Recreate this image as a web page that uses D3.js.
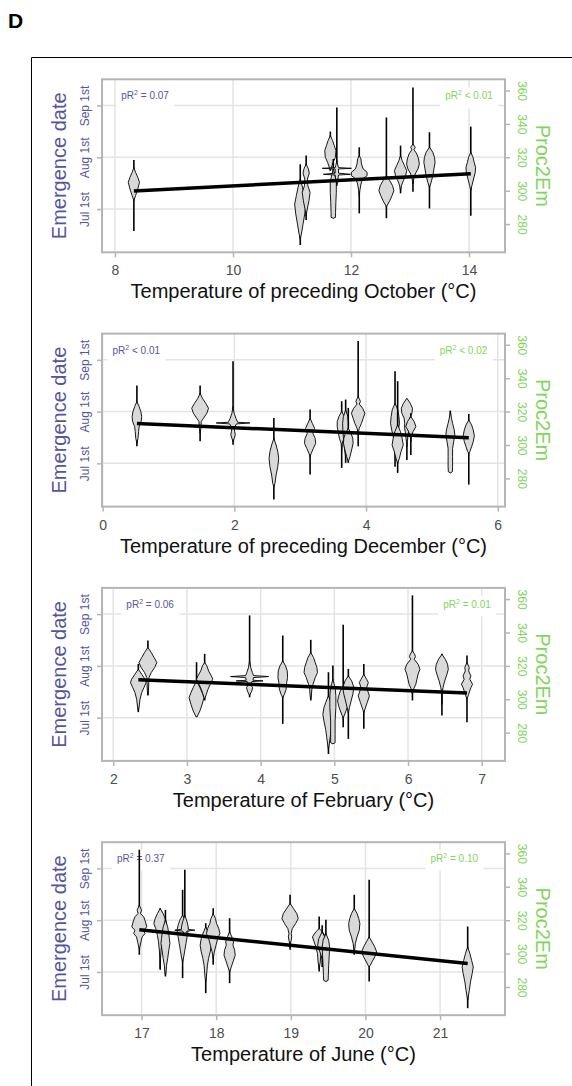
<!DOCTYPE html>
<html><head><meta charset="utf-8">
<script src="https://cdn.jsdelivr.net/npm/d3@7"></script>
<style>body{margin:0;background:#fff} svg{display:block}</style>
</head><body><svg id="chart" width="572" height="1086"></svg>
<script>
// ---------------- DATA ----------------
const xTitles = ["Temperature of preceding October (°C)", "Temperature of preceding December (°C)", "Temperature of February (°C)", "Temperature of June (°C)"];
const xTicks = [[8, 10, 12, 14], [0, 2, 4, 6], [2, 3, 4, 5, 6, 7], [17, 18, 19, 20, 21]];
const xDomains = [[7.78, 14.61], [-0.01, 6.11], [1.847, 7.316], [16.47, 21.87]];
const dateTickDoy = [182, 213, 244];
const dateTickLabels = ["Jul 1st", "Aug 1st", "Sep 1st"];
const procTicks = [280, 300, 320, 340, 360];
const procOffset = 107;            // Proc2Em = day of year + 107
const yDomain = [156.1, 259.7];    // day of year
const leftLabels = ["= 0.07", "< 0.01", "= 0.06", "= 0.37"];
const rightLabels = ["< 0.01", "< 0.02", "= 0.01", "= 0.10"];
const leftLabelX = [8.51, 0.51, 2.50, 16.99];
const rightLabelX = [14.0, 5.48, 6.80, 21.19];
const fitSlope = [1.8, -1.667, -1.757, -4.6];
const fitIntercept = [177.87, 206.67, 208.75, 285.3];

// violins: x position, whisker low / high (day of year), density profile [doy, density]
const octX = [8.32, 11.14, 11.24, 11.65, 11.70, 11.76, 12.14, 12.60, 12.84, 13.05, 13.33, 14.03];
const octLo = [168.9, 160.5, 175.4, 205, 176.5, 196, 179.4, 176.5, 191.4, 192.4, 182.4, 178];
const octHi = [211.4, 208.8, 214, 228.4, 212, 242.8, 219, 236.8, 220, 254.8, 228, 231.4];
const octShape = [
  [[207,0],[204,1.5],[201,3.5],[198,5],[194,3.5],[190,1.5],[187,0]],
  [[200,0],[195,2],[190,3.5],[185,5],[179,4],[173,2.5],[167,1],[164,0]],
  [[209,0],[206,2],[203.5,2.8],[200,1.2],[196,1.5],[192,3.5],[187,2.5],[182,1],[178,0]],
  [[226,0],[223,2],[220,3.5],[217,5],[213,4.5],[210,2.5],[207,1],[205,0]],
  [[206,0],[202,1.5],[198,2.7],[192,2.7],[186,2.3],[180,2],[177,2],[176.5,0]],
  [[211,0],[208,1],[206.8,1.5],[206.4,13],[206,1.5],[203.5,1.5],[202.8,12],[202.4,1.5],[200,1],[197,0]],
  [[214,0],[212,1.5],[209,2],[206,3.5],[204,7],[202,7],[200,3],[197,1.5],[193,0.5],[190,0]],
  [[202,0],[199,3],[196,5.5],[193,6.7],[190,5],[187,3],[184,0.5],[183,0]],
  [[214,0],[211,1.5],[208,3.5],[205,5.5],[202,4.5],[199,2.5],[196,0.8],[193,0]],
  [[221,0],[219,2],[217.5,1],[215,3.5],[212,5],[209,5.7],[206,4.5],[203,2],[200,0.7],[197,0]],
  [[219,0],[216,3],[213,4.5],[210,5],[206,4],[202,3],[198,1.5],[195,0]],
  [[216,0],[213,2],[210,3],[207,4.3],[204,4],[200,2.5],[196,1],[193,0]]
];

const decX = [0.52, 1.48, 1.98, 2.60, 3.15, 3.63, 3.69, 3.73, 3.88, 4.44, 4.48, 4.62, 4.68, 5.28, 5.56];
const decLo = [192.3, 195.3, 193.2, 160.3, 175.3, 179.3, 182.3, 182.3, 192.3, 180, 176.3, 184, 187, 176.3, 169.3];
const decHi = [228.6, 228.6, 243.2, 209.2, 214.2, 219.2, 220.2, 215.2, 255.2, 237.2, 231.2, 220.2, 212, 213.6, 211.6];
const decShape = [
  [[219,0],[216,2],[213,3.5],[210,4.3],[207,3.8],[204,2],[201,1.5],[197,1],[194,0]],
  [[224,0],[221,2],[218,5],[215,7.5],[212,6],[209,3],[207,1],[203,0.7],[200,0]],
  [[216,0],[212,1],[209,2.5],[207,4],[206.6,4],[206.2,15],[205.6,3],[203,1],[201,1.5],[199,2],[197,1],[195,0]],
  [[197,0],[193,2],[189,3.5],[185,4.3],[180,3.5],[175,2],[170,1],[168,0]],
  [[209,0],[206,2],[203,4],[200,2.5],[197,4.5],[194,5],[191,3],[188,1],[186,0]],
  [[213,0],[210,2.5],[207,4],[204,4],[200,3],[197,2],[194,0.5],[190,0]],
  [[214,0],[210,2],[206,2.7],[202,2.5],[198,2],[194,1.5],[190,1],[186,0]],
  [[203,0],[200,2.5],[197,4],[194,4.3],[190,3],[186,1.5],[183,0]],
  [[222,0],[220,1.5],[219,2],[217.5,1],[215,4],[212,6],[209,4.5],[206,3],[203,1],[200,0]],
  [[218,0],[214,2.5],[210,3.5],[206,4],[202,3],[198,1.5],[195,0]],
  [[205,0],[201,2.5],[197,4],[193,5],[189,3],[185,1.5],[182,0]],
  [[221,0],[218,3],[215,5],[212,4.5],[209,2.5],[206,2],[203,2],[199,1],[195,0.5],[192,0]],
  [[210,0],[207,3],[204,4.5],[201,2],[198,0.5],[195,0]],
  [[213,0],[209,1],[206,2],[202,3.5],[199,4],[195,3],[191,2],[186,2],[180,2],[177,1.8],[176.3,0]],
  [[208,0],[205,2.5],[202,4],[198.5,5],[195,4],[192,2.5],[189,1],[188,0]]
];

const febX = [2.34, 2.47, 3.13, 3.24, 3.85, 4.30, 4.68, 4.92, 4.98, 5.12, 5.19, 5.40, 6.06, 6.46, 6.80];
const febLo = [185.3, 195.3, 182.3, 192.3, 194.2, 178.3, 192.3, 160.3, 166.3, 176.3, 169.3, 175.3, 192.3, 183.3, 179.3];
const febHi = [214.2, 228.2, 215.2, 220.2, 243.2, 231.2, 228.6, 209.2, 213.2, 237.6, 211.2, 214.2, 255.2, 220.2, 219.2];
const febShape = [
  [[211,0],[208,3],[205,6],[203,7],[200,5],[197,3],[193,1.5],[189,0.8],[186,0]],
  [[224,0],[221,3],[218,5.5],[215,8],[212,6],[209,3],[206,1],[203,0.8],[198,0.5],[196,0]],
  [[204,0],[200,3],[197,5],[194,6.7],[190,5],[186,3],[183,0.8],[182.3,0]],
  [[215,0],[213,2],[210,3.5],[207,6],[205,7.3],[202,5],[199,3],[196,1.5],[193,0]],
  [[216,0],[212,1],[209,2.5],[207.2,3.5],[206.6,17],[206,3.5],[204.4,3],[204,12],[203.6,2],[202,1],[200,2.7],[198,2],[196,0.5],[195,0]],
  [[216,0],[213,2.5],[210,4],[206,4.3],[203,3.5],[199,3],[196,1.5],[194,0]],
  [[221,0],[218,2.5],[215,4],[212,5.5],[209,6],[206,4],[202,2],[199,1],[195,0.5],[193,0]],
  [[195,0],[191,2.5],[188,4],[184,5],[180,4],[175,2.5],[170,1.5],[165,0.5],[163,0]],
  [[205,0],[200,2],[195,2.7],[188,2.7],[180,2],[172,2],[167,2],[166.3,0]],
  [[201,0],[198,2.5],[195,4],[192,5],[189,4],[186,2.5],[183,0.8],[182,0]],
  [[207,0],[204,3],[200,5],[196,4],[192,2.5],[188,1],[185,0]],
  [[208,0],[205,2.5],[203,4],[200,2.5],[198,3.5],[195,5],[191,3],[187,1],[185,0]],
  [[222,0],[220,2],[218.5,2.7],[217,1.5],[214,5],[211,6.7],[208,5],[205,4],[202,3],[199,1],[196,0]],
  [[220,0],[217,3],[214,5],[211,5.7],[208,4.5],[204,2.5],[200,1],[197,0.3],[190,0]],
  [[215,0],[212,2],[210,1.5],[207,3.5],[205,2.5],[202,5],[200,3.5],[198,2.5],[196,1.5],[193,0]]
];

const junX = [16.97, 17.25, 17.32, 17.55, 17.58, 17.86, 17.96, 18.18, 18.99, 19.38, 19.42, 19.47, 19.85, 20.05, 21.37];
const junLo = [192.3, 183.3, 179.3, 178.3, 205, 169.3, 186.3, 175.3, 195.3, 182.3, 185, 176.3, 192.3, 176.3, 160.3];
const junHi = [255.2, 220.2, 219.2, 231.2, 243.2, 211.2, 220.2, 214.2, 228.2, 215.2, 210, 213.2, 228.2, 237.2, 209.2];
const junShape = [
  [[222,0],[219,2],[217,1],[215,4],[212,5.5],[209,6.7],[207,4],[205,5],[203,2.5],[200,1.5],[197,0.5],[196,0]],
  [[220,0],[217,2.5],[214,4.5],[211,5.7],[208,4],[204,2.5],[200,1.5],[195,0.8],[190,0.3],[184,0]],
  [[213,0],[209,2],[205,3],[202,3.5],[199,4],[195,3],[190,2],[186,1],[182,0.5],[180,0]],
  [[216,0],[213,2.5],[210,4],[207,5],[203,4],[199,3],[195,2],[191,1],[188,0]],
  [[216,0],[212,2],[209,3],[207.5,3],[207,9],[206.5,2],[205,0.5],[204,0]],
  [[209,0],[205,2.5],[202,4],[198,5],[194,4],[190,2.5],[186,1.5],[182,1],[178,0.5],[176,0]],
  [[217,0],[214,2],[211,3],[208,5],[205,6],[202,4],[198,2.5],[194,1],[191,0.3],[190,0]],
  [[206,0],[203,2],[200,3.5],[198,3],[195,4.5],[192,5],[189,3.5],[185,1.5],[182,0]],
  [[223,0],[220,3],[217,6],[214,7.3],[211,5],[208,2],[205,1],[203,1.5],[201,1],[198,0]],
  [[208,0],[206,3],[203,6],[200,4.5],[197,3],[193,1.5],[188,1],[184,0]],
  [[206,0],[202,3],[198,4],[194,2],[190,0]],
  [[205,0],[201,2.5],[197,3.3],[192,3],[186,2.5],[180,2.2],[177,2],[176.3,0]],
  [[220,0],[217,2.5],[214,4],[211,5],[207,4.5],[203,2.5],[199,1],[196,0.5],[193,0]],
  [[203,0],[200,2.5],[197,5],[194,6.7],[191,5],[188,2.5],[186,1],[185,0]],
  [[197,0],[193,2],[189,3.5],[185,5],[181,4],[176,2.5],[171,1.5],[167,0.5],[165,0]]
];

const panelX = [octX, decX, febX, junX];
const panelLo = [octLo, decLo, febLo, junLo];
const panelHi = [octHi, decHi, febHi, junHi];
const panelShape = [octShape, decShape, febShape, junShape];

// ---------------- DRAWING ----------------
const FONT = "'Liberation Sans', Arial, Helvetica, sans-serif";
const BLUE = "#55559b", GREEN = "#7fd65c", GRID = "#e4e4e4", BORDER = "#b5b5b5";
const svg = d3.select("#chart");
svg.append("rect").attr("width", 572).attr("height", 1086).attr("fill", "#fff");

svg.append("text").attr("x", 8).attr("y", 28).text("D")
  .style("font-family", FONT).style("font-weight", "bold").style("font-size", "21px");
svg.append("path").attr("d", "M31.5,1100 V57.5 H600").attr("fill", "none").attr("stroke", "#000").attr("stroke-width", 1);

const left = 102, right = 505, ph = 173;
const wScale = d3.scaleLinear().domain([0, 1]).range([0, 1.12]);

for (let i = 0; i < 4; i++) {
  const top = 79.3 + i * 254.3, bottom = top + ph;
  const x = d3.scaleLinear().domain(xDomains[i]).range([left, right]);
  const y = d3.scaleLinear().domain(yDomain).range([bottom, top]);
  const yR = d3.scaleLinear().domain(yDomain.map(d => d + procOffset)).range([bottom, top]);
  const g = svg.append("g");

  // grid
  g.selectAll(null).data(xTicks[i]).join("line")
    .attr("x1", d => x(d)).attr("x2", d => x(d)).attr("y1", top).attr("y2", bottom)
    .attr("stroke", GRID).attr("stroke-width", 1.5);
  g.selectAll(null).data(dateTickDoy).join("line")
    .attr("x1", left).attr("x2", right).attr("y1", d => y(d)).attr("y2", d => y(d))
    .attr("stroke", GRID).attr("stroke-width", 1.5);

  // axes
  const ax = g.append("g").attr("transform", `translate(0,${bottom})`)
    .call(d3.axisBottom(x).tickValues(xTicks[i]).tickSize(5).tickFormat(d3.format("d")));
  ax.select(".domain").remove();
  ax.selectAll(".tick line").attr("stroke", BORDER).attr("stroke-width", 1.5);
  ax.selectAll(".tick text").attr("y", 23).attr("dy", 0).attr("fill", "#4d4d4d")
    .style("font-family", FONT).style("font-size", "14px");

  const ay = g.append("g").attr("transform", `translate(${left},0)`)
    .call(d3.axisLeft(y).tickValues(dateTickDoy).tickSize(5).tickFormat((d, j) => dateTickLabels[j]));
  ay.select(".domain").remove();
  ay.selectAll(".tick line").attr("stroke", BORDER).attr("stroke-width", 1.5);
  ay.selectAll(".tick text").attr("x", 0).attr("y", 0).attr("dy", 0)
    .attr("transform", "translate(-13,0) rotate(-90)").attr("text-anchor", "middle")
    .attr("fill", BLUE).style("font-family", FONT).style("font-size", "12px");

  const ar = g.append("g").attr("transform", `translate(${right},0)`)
    .call(d3.axisRight(yR).tickValues(procTicks).tickSize(5));
  ar.select(".domain").remove();
  ar.selectAll(".tick line").attr("stroke", BORDER).attr("stroke-width", 1.5);
  ar.selectAll(".tick text").attr("x", 0).attr("y", 0).attr("dy", 0)
    .attr("transform", "translate(13,0) rotate(90)").attr("text-anchor", "middle")
    .attr("fill", GREEN).style("font-family", FONT).style("font-size", "12px");

  // annotation labels with white backing
  const labs = [
    { cx: x(leftLabelX[i]), txt: leftLabels[i], col: BLUE },
    { cx: x(rightLabelX[i]), txt: rightLabels[i], col: GREEN }
  ];
  labs.forEach(L => {
    const bg = g.append("rect").attr("fill", "#fff");
    const t = g.append("text").attr("x", L.cx).attr("y", top + 20).attr("text-anchor", "middle")
      .attr("fill", L.col).style("font-family", FONT).style("font-size", "10px");
    t.append("tspan").text("pR");
    t.append("tspan").attr("dy", -4).style("font-size", "7px").text("2");
    t.append("tspan").attr("dy", 4).text(" " + L.txt);
    const bb = t.node().getBBox();
    bg.attr("x", bb.x - 5).attr("y", top + 8).attr("width", bb.width + 10).attr("height", 20.5);
  });

  // violins
  const xs = panelX[i], los = panelLo[i], his = panelHi[i], shapes = panelShape[i];
  xs.forEach((xv, j) => {
    const cx = x(xv);
    g.append("line").attr("x1", cx).attr("x2", cx).attr("y1", y(los[j])).attr("y2", y(his[j]))
      .attr("stroke", "#000").attr("stroke-width", 1.6);
    const area = d3.area()
      .y(d => y(d[0]))
      .x0(d => cx - wScale(d[1]))
      .x1(d => cx + wScale(d[1]));
    g.append("path").attr("d", area(shapes[j]))
      .attr("fill", "#d9d9d9").attr("stroke", "#000").attr("stroke-width", 0.9).attr("stroke-linejoin", "round");
  });

  // regression line
  const ext = d3.extent(xs);
  g.append("path")
    .attr("d", d3.line().x(d => x(d)).y(d => y(fitIntercept[i] + fitSlope[i] * d))(ext))
    .attr("stroke", "#000").attr("stroke-width", 3.5).attr("fill", "none");

  // border
  g.append("rect").attr("x", left).attr("y", top).attr("width", right - left).attr("height", ph)
    .attr("fill", "none").attr("stroke", BORDER).attr("stroke-width", 2);

  // titles
  g.append("text").attr("x", (left + right) / 2).attr("y", bottom + 46).attr("text-anchor", "middle")
    .attr("fill", "#111").style("font-family", FONT).style("font-size", "20px").text(xTitles[i]);
  g.append("text").attr("transform", `translate(66,${top + ph / 2}) rotate(-90)`).attr("text-anchor", "middle")
    .attr("fill", BLUE).style("font-family", FONT).style("font-size", "20px").text("Emergence date");
  g.append("text").attr("transform", `translate(536,${top + ph / 2}) rotate(90)`).attr("text-anchor", "middle")
    .attr("fill", GREEN).style("font-family", FONT).style("font-size", "20px").text("Proc2Em");
}
</script></body></html>
